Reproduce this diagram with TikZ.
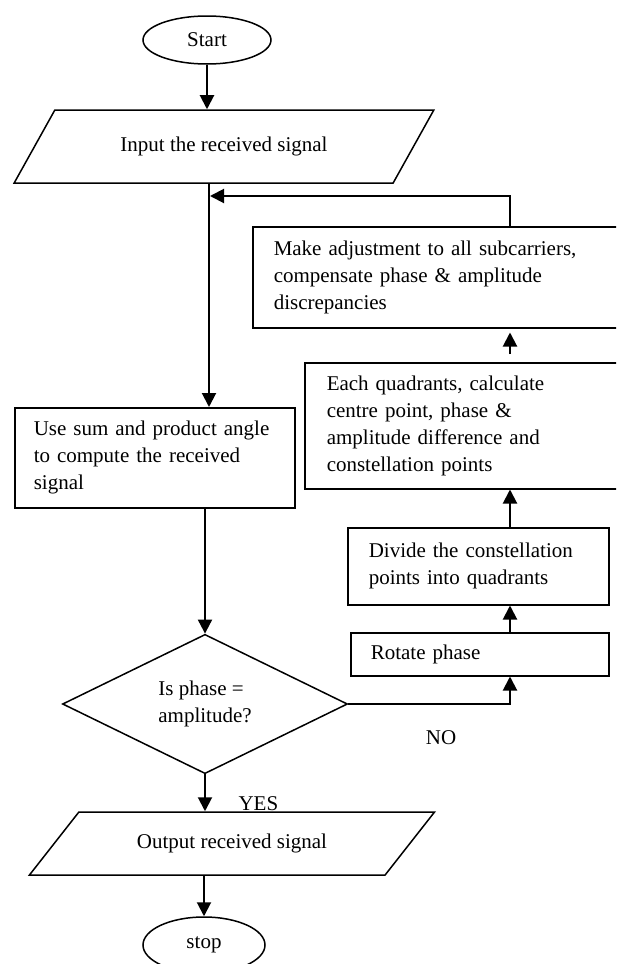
\documentclass[tikz,border=0pt]{standalone}
\usepackage{fontspec}
\setmainfont{Liberation Serif}
\usetikzlibrary{shapes.geometric,arrows.meta}

\tikzset{
  every node/.style={font=\fontsize{21pt}{27pt}\selectfont},
  termnode/.style={draw,ellipse,line width=1.5pt,inner sep=0pt},
  ionode/.style={draw,trapezium,trapezium stretches=true,line width=1.5pt,inner sep=0pt},
  procbox/.style={draw,rectangle,line width=1.5pt,anchor=north west,align=left,inner ysep=0pt},
  decnode/.style={draw,diamond,line width=1.5pt,inner sep=0pt,align=left},
  flow/.style={line width=2pt,-{Triangle[length=14pt,width=14pt]}}
}

\begin{document}
\begin{tikzpicture}[x=1pt,y=-1pt]
\useasboundingbox (0,0) rectangle (616,964);
\clip (0,0) rectangle (616,964);

% Start
\node[termnode,minimum width=128pt,minimum height=48pt] (start) at (207,40) {Start};

% Input
\node[ionode,trapezium left angle=37.5,trapezium right angle=142.5,
  minimum width=420pt,minimum height=73pt] (input) at (224,146.5) {Input the received signal};
\coordinate (trunk) at (209,183);
\coordinate (loopin) at (210,196);
\coordinate (rx) at (510,0);

% Left column
\node[procbox,minimum width=280pt,minimum height=100pt,text width=242pt,inner xsep=19pt]
  (useb) at (14,407) {Use sum and product angle\\to compute the received\\signal};
\node[decnode,minimum width=285pt,minimum height=125pt] (dec) at (205,704) {Is phase =\\amplitude?};
\node[ionode,trapezium left angle=31.9,trapezium right angle=148.1,
  minimum width=406pt,minimum height=63pt] (out) at (232,843.5) {Output received signal};
\node[termnode,minimum width=122pt,minimum height=56pt] (stop) at (204,945) {stop};

% Right column (correction loop)
\node[procbox,minimum width=258pt,minimum height=43pt,text width=218pt,inner xsep=20pt]
  (rot) at (350,632) {Rotate phase};
\node[procbox,minimum width=261pt,minimum height=77pt,text width=219pt,inner xsep=21pt]
  (div) at (347,527) {Divide the constellation\\points into quadrants};
\node[procbox,minimum width=336pt,minimum height=126pt,text width=292pt,inner xsep=22pt]
  (each) at (304,362) {Each quadrants, calculate\\centre point, phase \&\\amplitude difference and\\constellation points};
\node[procbox,minimum width=388pt,minimum height=101pt,text width=346pt,inner xsep=21pt]
  (make) at (252,226) {Make adjustment to all subcarriers,\\compensate phase \& amplitude\\discrepancies};

% Labels
\node[anchor=base west] (yes) at (235,810) {YES};
\node (no) at (441,738) {NO};

% Arrows
\draw[flow] (start.south) -- (start.south |- input.north);
\draw[flow] (trunk) -- (trunk |- useb.north);
\draw[flow] (useb.south -| dec.north) -- (dec.north);
\draw[flow] (dec.south) -- (dec.south |- out.north);
\draw[flow] (out.south -| stop.north) -- (stop.north);
\draw[flow] (dec.east) -| (rot.south -| rx);
\draw[flow] (rot.north -| rx) -- (div.south -| rx);
\draw[flow] (div.north -| rx) -- (each.south -| rx);
\draw[flow,shorten <=8pt,shorten >=4pt] (each.north -| rx) -- (make.south -| rx);
\draw[flow] (make.north -| rx) |- (loopin);
\end{tikzpicture}
\end{document}
